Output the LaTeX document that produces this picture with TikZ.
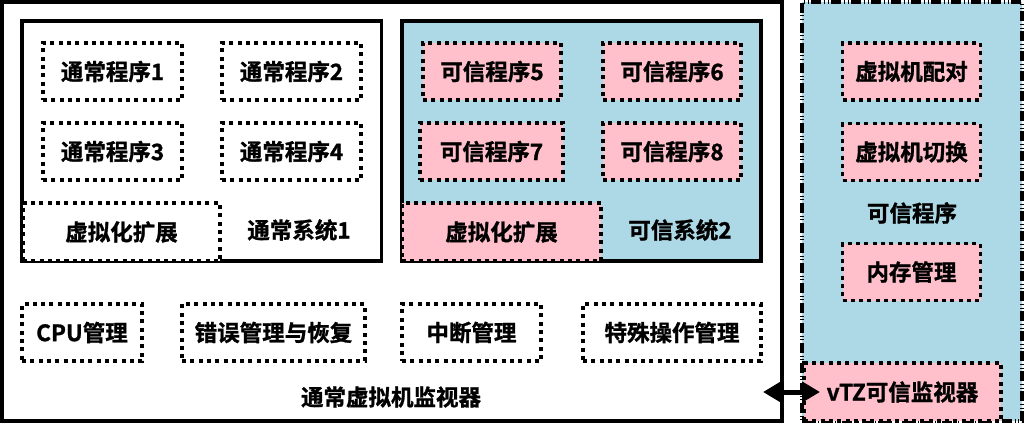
\documentclass[tikz,border=0pt]{standalone}
\usepackage{fontspec}
\newfontfamily\cjk{Noto Sans CJK SC}[BoldFont={Noto Sans CJK SC Bold}, BoldFeatures={FakeBold=1.2}]
\usetikzlibrary{arrows.meta}
\definecolor{tzblue}{HTML}{ADD8E6}
\definecolor{tzpink}{HTML}{FFC0CB}
\tikzset{
  txt/.style={font=\cjk\bfseries\fontsize{22.5bp}{27bp}\selectfont, text=black, inner sep=0pt},
  frame/.style={draw=black, line width=3.6bp, outer sep=0pt, inner sep=0pt},
  dotbox/.style={txt, draw=black, line width=3.2bp, dash pattern=on 4bp off 4.3bp, outer sep=0pt},
  normbox/.style={dotbox, fill=white},
  trustbox/.style={dotbox, fill=tzpink},
  colframe/.style={draw=black, fill=tzblue, line width=3.6bp, outer sep=0pt, inner sep=0pt,
    dash pattern=on 10bp off 2.5bp on 1bp off 2.5bp on 1bp off 3bp},
  link/.style={line width=5bp, {Triangle[length=18bp,width=20bp]}-{Triangle[length=18bp,width=20bp]}}
}
\begin{document}
\begin{tikzpicture}[x=1bp, y=-1bp]
\useasboundingbox (0,0) rectangle (1024,424);
\fill[white] (0,0) rectangle (1024,424);

% hypervisor frame
\node[frame, fill=white, minimum width=780bp, minimum height=419bp] (hv) at (392,211.5) {};

% normal system
\node[frame, minimum width=359.5bp, minimum height=240bp] (sys1) at (201.75,141) {};
\node[normbox, minimum width=139bp, minimum height=57bp] (p1) at (112.5,71.5) {通常程序1};
\node[normbox, minimum width=139bp, minimum height=57bp] (p2) at (291.5,71.5) {通常程序2};
\node[normbox, minimum width=139bp, minimum height=57bp] (p3) at (112.5,151.5) {通常程序3};
\node[normbox, minimum width=139bp, minimum height=57bp] (p4) at (291.5,151.5) {通常程序4};
\node[normbox, minimum width=197bp, minimum height=58bp] (ext1) at (121.5,232) {虚拟化扩展};
\node[txt] (sys1lbl) at (299,230) {通常系统1};

% trusted system
\node[frame, fill=tzblue, minimum width=359bp, minimum height=240bp] (sys2) at (581.5,141) {};
\node[trustbox, minimum width=138bp, minimum height=57bp] (p5) at (492,71.5) {可信程序5};
\node[trustbox, minimum width=138bp, minimum height=57bp] (p6) at (672,71.5) {可信程序6};
\node[trustbox, minimum width=143bp, minimum height=57bp] (p7) at (491.5,151.5) {可信程序7};
\node[trustbox, minimum width=138bp, minimum height=57bp] (p8) at (672,151.5) {可信程序8};
\node[trustbox, minimum width=199bp, minimum height=58bp] (ext2) at (501.5,232) {虚拟化扩展};
\node[txt] (sys2lbl) at (680,230) {可信系统2};

% hypervisor services
\node[normbox, minimum width=120bp, minimum height=57bp] (cpu) at (82,332.5) {CPU管理};
\node[normbox, minimum width=183bp, minimum height=57bp] (err) at (273.5,332.5) {错误管理与恢复};
\node[normbox, minimum width=139bp, minimum height=57bp] (irq) at (471.5,332.5) {中断管理};
\node[normbox, minimum width=178bp, minimum height=57bp] (spec) at (672,332.5) {特殊操作管理};
\node[txt] (hvlbl) at (391,397) {通常虚拟机监视器};

% trusted monitor column
\node[colframe, minimum width=220bp, minimum height=419bp] (col) at (912,211.5) {};
\node[trustbox, minimum width=138bp, minimum height=57bp] (pair) at (911.5,71.5) {虚拟机配对};
\node[trustbox, minimum width=138bp, minimum height=57bp] (swap) at (911.5,152) {虚拟机切换};
\node[txt] (collbl) at (912,213) {可信程序};
\node[trustbox, minimum width=138bp, minimum height=57bp] (mem) at (911.5,272) {内存管理};
\node[trustbox, minimum width=197bp, minimum height=58bp] (vtz) at (902.5,392) {vTZ可信监视器};

% link between the two monitors
\draw[link] ([xshift=-19bp]vtz.west -| hv.east) -- ([xshift=16bp]vtz.west);
\end{tikzpicture}
\end{document}
